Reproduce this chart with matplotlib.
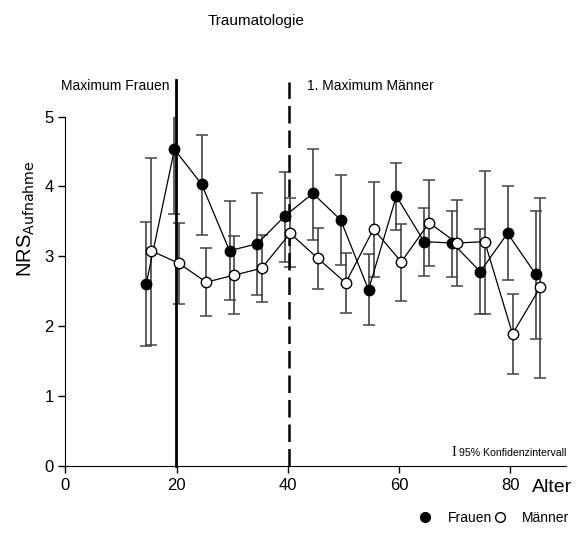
import matplotlib
matplotlib.use("Agg")
import matplotlib.pyplot as plt
from matplotlib.lines import Line2D
import numpy as np

plt.rcParams['font.family'] = ['Liberation Sans', 'DejaVu Sans']

# Altersgruppen (leicht versetzt, damit sich die Balken nicht decken)
alter_frauen = [14.5, 19.6, 24.5, 29.5, 34.5, 39.5, 44.5, 49.5, 54.5, 59.5, 64.5, 69.6, 74.6, 79.5, 84.6]
alter_maenner = [15.4, 20.4, 25.3, 30.3, 35.3, 40.4, 45.4, 50.4, 55.4, 60.4, 65.4, 70.4, 75.4, 80.4, 85.4]

# NRS bei Aufnahme, Mittelwert und 95%-KI
nrs_frauen = [2.60, 4.53, 4.03, 3.08, 3.18, 3.58, 3.90, 3.52, 2.52, 3.86, 3.21, 3.19, 2.78, 3.33, 2.74]
ki_unten_frauen = [1.71, 3.61, 3.30, 2.37, 2.45, 2.92, 3.23, 2.87, 2.02, 3.38, 2.72, 2.70, 2.17, 2.66, 1.81]
ki_oben_frauen = [3.49, 5.46, 4.74, 3.79, 3.90, 4.21, 4.54, 4.16, 3.03, 4.34, 3.69, 3.65, 3.39, 4.00, 3.65]

nrs_maenner = [3.08, 2.90, 2.63, 2.73, 2.83, 3.33, 2.97, 2.62, 3.39, 2.92, 3.48, 3.19, 3.21, 1.89, 2.56]
ki_unten_maenner = [1.73, 2.32, 2.14, 2.17, 2.34, 2.84, 2.53, 2.19, 2.71, 2.36, 2.86, 2.57, 2.18, 1.31, 1.26]
ki_oben_maenner = [4.41, 3.48, 3.12, 3.29, 3.30, 3.83, 3.40, 3.05, 4.06, 3.46, 4.09, 3.81, 4.22, 2.46, 3.83]

max_frauen = 19.8
max_maenner = 40.2

fig = plt.figure(figsize=(5.81, 5.33), dpi=100)
ax = fig.add_axes([0.1127, 0.1257, 0.8613, 0.6557])


def reihe(x, y, lo, hi, face):
    y = np.array(y)
    err = [y - np.array(lo), np.array(hi) - y]
    ax.errorbar(x, y, yerr=err, fmt='none', ecolor='#444444', elinewidth=1.2,
                capsize=4, capthick=1.1, zorder=2)
    ax.plot(x, y, '-', color='black', lw=0.9, marker='o', ms=7.5,
            mfc=face, mec='black', mew=1.0, zorder=4, clip_on=False)


reihe(alter_frauen, nrs_frauen, ki_unten_frauen, ki_oben_frauen, 'black')
reihe(alter_maenner, nrs_maenner, ki_unten_maenner, ki_oben_maenner, 'white')

# Maxima als senkrechte Linien
ax.plot([max_frauen, max_frauen], [0, 5.52], color='black', lw=2.0, clip_on=False, zorder=3)
ax.plot([max_maenner, max_maenner], [0, 5.5], color='black', lw=1.8,
        linestyle=(0, (7, 2.8)), clip_on=False, zorder=3)

ax.text(18.7, 5.43, 'Maximum Frauen', ha='right', va='center', fontsize=10)
ax.text(max_maenner + 3.3, 5.43, '1. Maximum Männer', ha='left', va='center', fontsize=10)

ax.set_xlim(0, 90)
ax.set_ylim(0, 5)
ax.set_xticks([0, 20, 40, 60, 80])
ax.set_yticks([0, 1, 2, 3, 4, 5])
ax.tick_params(labelsize=12, length=5, width=1, direction='out')
for s in ['top', 'right']:
    ax.spines[s].set_visible(False)
ax.spines['bottom'].set_bounds(0, 90)

fig.text(256 / 581, 1 - 21 / 533, 'Traumatologie', ha='center', va='center', fontsize=11)

fig.text(26 / 581, 1 - 219 / 533, r'NRS$_{\mathrm{Aufnahme}}$', rotation=90,
         ha='center', va='center', fontsize=14.5)

fig.text(552 / 581, 1 - 488 / 533, 'Alter', ha='center', va='center', fontsize=14)

fig.text(451 / 581, 1 - 453 / 533, 'I', family='Liberation Serif', fontsize=10.5,
         ha='left', va='center')
fig.text(459 / 581, 1 - 453 / 533, '95% Konfidenzintervall', fontsize=7.6,
         ha='left', va='center')

handles = [
    Line2D([], [], ls='none', marker='o', ms=7, mfc='black', mec='black', label='Frauen'),
    Line2D([], [], ls='none', marker='o', ms=7, mfc='white', mec='black', label='Männer'),
]
fig.legend(handles=handles, loc='center', bbox_to_anchor=(494 / 581, 1 - 518 / 533),
           ncol=2, frameon=False, fontsize=10, handletextpad=1.1, columnspacing=0.1,
           handlelength=1.0)

fig.savefig('out.png', dpi=100)
